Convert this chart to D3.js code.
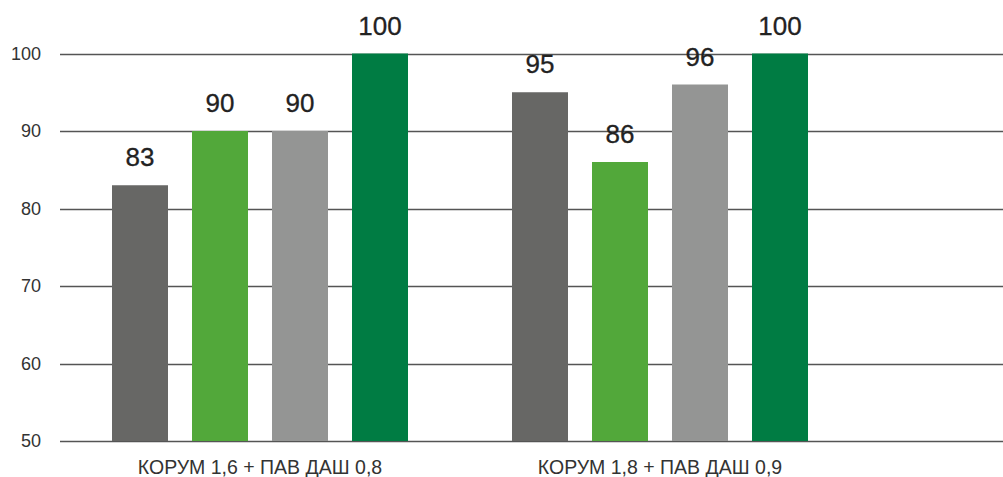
<!DOCTYPE html>
<html>
<head>
<meta charset="utf-8">
<script src="https://cdn.jsdelivr.net/npm/d3@7"></script>
<style>
  body { margin: 0; background: #fff; }
  text { font-family: "Liberation Sans", Arial, sans-serif; }
</style>
</head>
<body>
<script>
// data
var groups = ["КОРУМ 1,6 + ПАВ ДАШ 0,8", "КОРУМ 1,8 + ПАВ ДАШ 0,9"];
var series = ["a", "b", "c", "d"];
var seriesColors = ["#676765", "#52a83a", "#949594", "#007c43"];
var valuesGroup1 = [83, 90, 90, 100];
var valuesGroup2 = [95, 86, 96, 100];
var yTicks = [50, 60, 70, 80, 90, 100];

var width = 1003,
    height = 477;

var data = groups.map(function(g, i) {
    var vals = i == 0 ? valuesGroup1 : valuesGroup2;
    return { group: g, values: series.map(function(s, j) { return { key: s, value: vals[j] }; }) };
});

var svg = d3.select("body").append("svg")
    .attr("width", width)
    .attr("height", height);

var x0 = d3.scaleBand().domain(groups).range([60, 860]);
var x1 = d3.scaleBand().domain(series).range([40, 360]).paddingInner(0.3).paddingOuter(0.15);
var y = d3.scaleLinear().domain([50, 100]).range([441, 53.5]);
var color = d3.scaleOrdinal().domain(series).range(seriesColors);

// gridlines
svg.append("g")
    .selectAll("line")
    .data(yTicks)
    .enter().append("line")
    .attr("x1", 60)
    .attr("x2", width)
    .attr("y1", function(d) { return Math.round(y(d)) + 0.5; })
    .attr("y2", function(d) { return Math.round(y(d)) + 0.5; })
    .style("stroke", "#555")
    .style("stroke-width", 1.3);

// y tick labels
svg.append("g")
    .selectAll("text")
    .data(yTicks)
    .enter().append("text")
    .attr("x", 41)
    .attr("y", function(d) { return y(d); })
    .attr("dy", "0.36em")
    .attr("text-anchor", "end")
    .style("font-size", "18px")
    .style("fill", "#333")
    .text(function(d) { return d; });

// bars
var g = svg.append("g")
    .selectAll("g")
    .data(data)
    .enter().append("g")
    .attr("transform", function(d) { return "translate(" + x0(d.group) + ",0)"; });

g.selectAll("rect")
    .data(function(d) { return d.values; })
    .enter().append("rect")
    .attr("x", function(d) { return x1(d.key); })
    .attr("width", x1.bandwidth())
    .attr("y", function(d) { return y(d.value); })
    .attr("height", function(d) { return y(50) - y(d.value); })
    .style("fill", function(d) { return color(d.key); });

g.selectAll("text")
    .data(function(d) { return d.values; })
    .enter().append("text")
    .attr("x", function(d) { return x1(d.key) + x1.bandwidth() / 2; })
    .attr("y", function(d) { return y(d.value) - 19; })
    .attr("text-anchor", "middle")
    .style("font-size", "26px")
    .style("fill", "#222")
    .style("stroke", "#222")
    .style("stroke-width", 0.3)
    .text(function(d) { return d.value; });

// x labels
svg.append("g")
    .selectAll("text")
    .data(groups)
    .enter().append("text")
    .attr("x", function(d) { return x0(d) + x0.bandwidth() / 2; })
    .attr("y", 474)
    .attr("text-anchor", "middle")
    .style("font-size", "19.5px")
    .style("fill", "#333")
    .text(function(d) { return d; });
</script>
</body>
</html>
